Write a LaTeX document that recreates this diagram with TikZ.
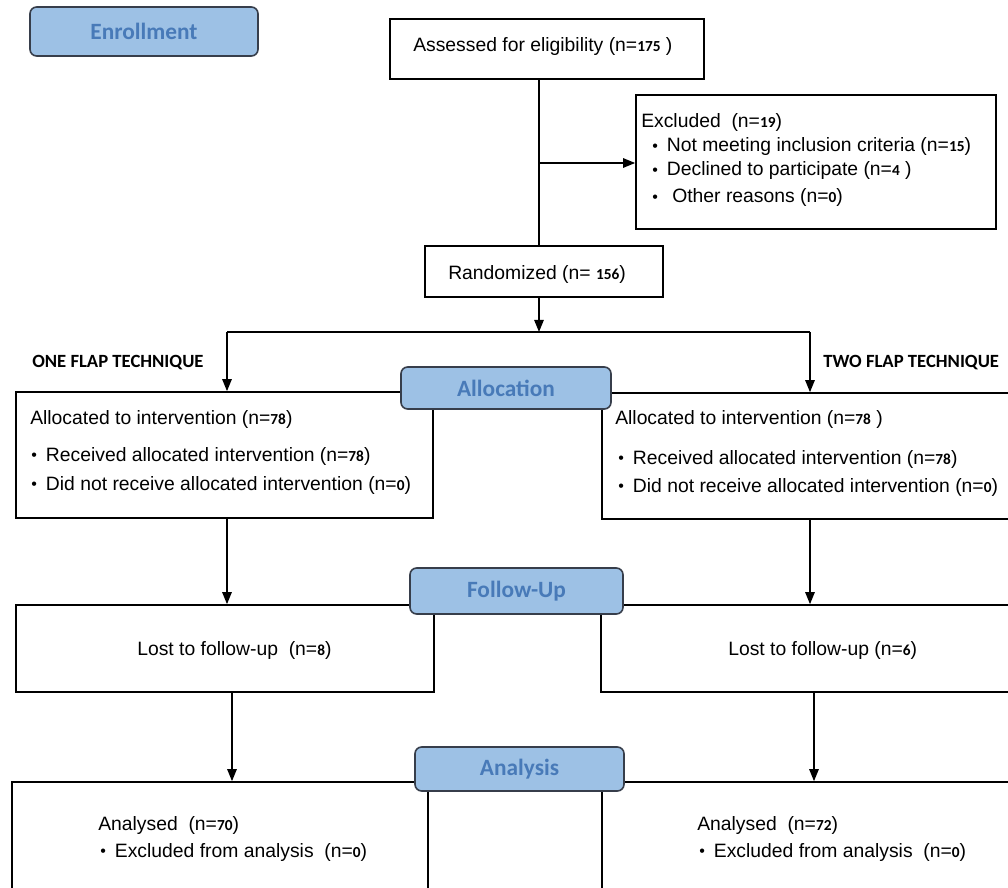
\documentclass[tikz,border=0pt]{standalone}
\usepackage{fontspec}
\setmainfont{Liberation Sans}
\newfontfamily\lblfont{Carlito}
\usetikzlibrary{arrows.meta,fit}
\definecolor{lblfill}{RGB}{157,193,229}
\definecolor{lbltext}{RGB}{72,122,184}
\definecolor{lbldraw}{RGB}{55,62,75}
\newcommand{\nn}[1]{{\lblfont\fontsize{11.5}{11}\selectfont\bfseries #1}}
\newcommand{\bl}{\makebox[11pt][l]{\raisebox{0.5pt}{\fontsize{12}{12}\selectfont •}}}
\tikzset{
  box/.style={draw=black, line width=1.2pt, inner sep=0pt, fill=white},
  lbl/.style={draw=lbldraw, line width=1.2pt, fill=lblfill, rounded corners=5pt,
    text=lbltext, font=\lblfont\fontsize{17.5}{20}\selectfont\bfseries, inner sep=0pt},
  txt/.style={anchor=base west, inner sep=0pt, font=\fontsize{14.5}{17}\selectfont},
  arm/.style={anchor=base west, inner sep=0pt, font=\lblfont\fontsize{14}{16}\selectfont\bfseries},
  conn/.style={line width=1.2pt, draw=black},
  arr/.style={conn, -{Triangle[length=9pt,width=7pt]}}
}
\begin{document}
\begin{tikzpicture}[x=0.75pt,y=-0.75pt]
\useasboundingbox (0,0) rectangle (1008,888);
\fill[white] (0,0) rectangle (1008,888);
\clip (0,0) rectangle (1008,888);

% boxes
\node[box, fit={(390,19)(704,79)}] (assess) {};
\node[box, fit={(636,95)(996,229)}] (excl) {};
\node[box, fit={(425,246)(663,297)}] (rand) {};
\node[box, fit={(16,392)(433,518)}] (allocL) {};
\node[box, fit={(602,393)(1015,519)}] (allocR) {};
\node[box, fit={(16,605)(434,692)}] (lostL) {};
\node[box, fit={(601,605)(1015,692)}] (lostR) {};
\node[box, fit={(12,782)(428,905)}] (anaL) {};
\node[box, fit={(602,782)(1015,905)}] (anaR) {};

% coordinates for connectors
\coordinate (cx) at (539,0);
\coordinate (ex) at (539,163);
\coordinate (bar) at (539,332);
\coordinate (barL) at (227,332);
\coordinate (barR) at (810,332);
\coordinate (xL2) at (232,0);
\coordinate (xR2) at (814,0);

% connectors
\draw[conn] (assess.south -| cx) -- (rand.north -| cx);
\draw[arr] (ex) -- (ex -| excl.west);
\draw[arr] (rand.south -| cx) -- (bar);
\draw[conn] (barL) -- (barR);
\draw[arr] (barL) -- (barL |- allocL.north);
\draw[arr] (barR) -- (barR |- allocR.north);
\draw[arr] (allocL.south -| barL) -- (lostL.north -| barL);
\draw[arr] (allocR.south -| barR) -- (lostR.north -| barR);
\draw[arr] (lostL.south -| xL2) -- (anaL.north -| xL2);
\draw[arr] (lostR.south -| xR2) -- (anaR.north -| xR2);

% stage labels
\node[lbl, minimum width=171pt, minimum height=36.75pt] (enr) at (144,31.5) {Enrollment};
\node[lbl, minimum width=157.5pt, minimum height=31.5pt] (alloc) at (506,388) {Allocation};
\node[lbl, minimum width=159.75pt, minimum height=34.5pt] (fup) at (516.5,591) {Follow-Up};
\node[lbl, minimum width=156.75pt, minimum height=33pt] (ana) at (519.5,769) {Analysis};

% texts
\node[txt] (t1) at (413,52) {Assessed for eligibility (n=\nn{175} )};
\node[txt] (t2) at (641,128) {Excluded\ \ (n=\nn{19})};
\node[txt] (t3) at (652,152) {\bl Not meeting inclusion criteria (n=\nn{15})};
\node[txt] (t4) at (652,176) {\bl Declined to participate (n=\nn{4} )};
\node[txt] (t5) at (652,203) {\bl\ Other reasons (n=\nn{0})};
\node[txt] (t6) at (448,280) {Randomized (n= \nn{156})};
\node[arm] (t7) at (32,368) {ONE FLAP TECHNIQUE};
\node[arm] (t8) at (823,368) {TWO FLAP TECHNIQUE};
\node[txt] (t9) at (30,424) {Allocated to intervention (n=\nn{78})};
\node[txt] (t10) at (31,461) {\bl Received allocated intervention (n=\nn{78})};
\node[txt] (t11) at (31,490) {\bl Did not receive allocated intervention (n=\nn{0})};
\node[txt] (t12) at (615,425) {Allocated to intervention (n=\nn{78} )};
\node[txt] (t13) at (618,464) {\bl Received allocated intervention (n=\nn{78})};
\node[txt] (t14) at (618,492) {\bl Did not receive allocated intervention (n=\nn{0})};
\node[txt] (t15) at (137,655) {Lost to follow-up\ \ (n=\nn{8})};
\node[txt] (t16) at (728,655) {Lost to follow-up (n=\nn{6})};
\node[txt] (t17) at (98,830) {Analysed\ \ (n=\nn{70})};
\node[txt] (t18) at (100,857) {\bl Excluded from analysis\ \ (n=\nn{0})};
\node[txt] (t19) at (697,830) {Analysed\ \ (n=\nn{72})};
\node[txt] (t20) at (699,857) {\bl Excluded from analysis\ \ (n=\nn{0})};
\end{tikzpicture}
\end{document}
